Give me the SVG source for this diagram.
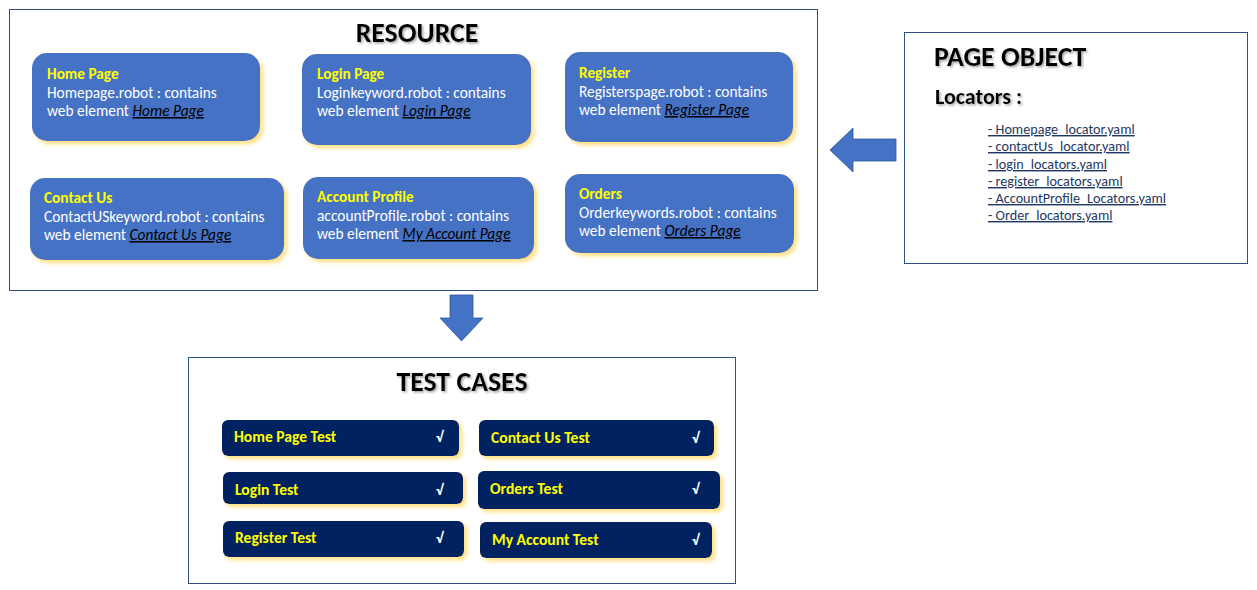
<svg xmlns="http://www.w3.org/2000/svg" width="1257" height="590" viewBox="0 0 1257 590">
<defs>
<filter id="glow" x="-10%" y="-20%" width="130%" height="150%">
<feDropShadow dx="3" dy="3" stdDeviation="2" flood-color="#FFD966" flood-opacity="0.85"/>
</filter>
<filter id="tshadow" x="-5%" y="-20%" width="110%" height="150%">
<feDropShadow dx="1.5" dy="1.5" stdDeviation="1" flood-color="#7F7F7F" flood-opacity="0.7"/>
</filter>
<style>
text{font-family:Carlito,Lato,"Liberation Sans",sans-serif}
.frame{fill:#fff;stroke:#2F4F7F;stroke-width:1}
.card{fill:#4472C4;filter:url(#glow)}
.test{fill:#002060;filter:url(#glow)}
.h1{font-size:27.8px;font-weight:bold;fill:#000;filter:url(#tshadow)}
.h2{font-size:22px;font-weight:bold;fill:#000;filter:url(#tshadow)}
.ct{font-size:15.3px;font-weight:bold;fill:#FFFF00}
.cb{font-size:15.4px;fill:#fff}
.lk{font-style:italic;fill:#000;text-decoration:underline}
.tt{font-size:15.6px;font-weight:bold;fill:#FFFF00}
.ck{font-size:15px;font-weight:bold;fill:#fff}
.loc{font-size:14.2px;fill:#1F3864;text-decoration:underline}
.arrow{fill:#4472C4;stroke:#2F5597;stroke-width:0.8}
</style>
</defs>

<g id="resource">
<rect class="frame" x="9.5" y="9.5" width="808" height="281"/>
<text class="h1" x="417" y="42" text-anchor="middle">RESOURCE</text>
</g>

<g id="home-page">
<rect class="card" x="32" y="53" width="228" height="88" rx="15"/>
<text class="ct" x="47" y="79">Home Page</text>
<text class="cb" x="47" y="98">Homepage.robot : contains</text>
<text class="cb" x="47" y="116">web element <tspan class="lk">Home Page</tspan></text>
</g>

<g id="login-page">
<rect class="card" x="302" y="54" width="229" height="91" rx="15"/>
<text class="ct" x="317" y="79">Login Page</text>
<text class="cb" x="317" y="98">Loginkeyword.robot : contains</text>
<text class="cb" x="317" y="116">web element <tspan class="lk">Login Page</tspan></text>
</g>

<g id="register">
<rect class="card" x="565" y="52" width="228" height="90" rx="15"/>
<text class="ct" x="579" y="78">Register</text>
<text class="cb" x="579" y="97">Registerspage.robot : contains</text>
<text class="cb" x="579" y="115">web element <tspan class="lk">Register Page</tspan></text>
</g>

<g id="contact-us">
<rect class="card" x="30" y="178" width="254" height="82" rx="15"/>
<text class="ct" x="44" y="203">Contact Us</text>
<text class="cb" x="44" y="222">ContactUSkeyword.robot : contains</text>
<text class="cb" x="44" y="240">web element <tspan class="lk">Contact Us Page</tspan></text>
</g>

<g id="account-profile">
<rect class="card" x="303" y="177" width="231" height="82" rx="15"/>
<text class="ct" x="317" y="202">Account Profile</text>
<text class="cb" x="317" y="221">accountProfile.robot : contains</text>
<text class="cb" x="317" y="239">web element <tspan class="lk">My Account Page</tspan></text>
</g>

<g id="orders">
<rect class="card" x="565" y="174" width="229" height="79" rx="15"/>
<text class="ct" x="579" y="199">Orders</text>
<text class="cb" x="579" y="218">Orderkeywords.robot : contains</text>
<text class="cb" x="579" y="236">web element <tspan class="lk">Orders Page</tspan></text>
</g>

<g id="page-object">
<rect class="frame" x="904.5" y="32.5" width="343" height="231"/>
<text class="h1" x="934" y="66">PAGE OBJECT</text>
<text class="h2" x="935" y="104">Locators :</text>
<text class="loc" x="988" y="134">- Homepage_locator.yaml</text>
<text class="loc" x="988" y="151">- contactUs_locator.yaml</text>
<text class="loc" x="988" y="169">- login_locators.yaml</text>
<text class="loc" x="988" y="186">- register_locators.yaml</text>
<text class="loc" x="988" y="203">- AccountProfile_Locators.yaml</text>
<text class="loc" x="988" y="220">- Order_locators.yaml</text>
</g>

<g id="test-cases">
<rect class="frame" x="188.5" y="357.5" width="547" height="226"/>
<text class="h1" x="462" y="391" text-anchor="middle">TEST CASES</text>
</g>

<g id="t-home">
<rect class="test" x="222" y="420" width="237" height="36" rx="6"/>
<text class="tt" x="234" y="442">Home Page Test</text>
<text class="ck" x="436" y="442">√</text>
</g>
<g id="t-contact">
<rect class="test" x="479" y="420" width="235" height="36" rx="6"/>
<text class="tt" x="491" y="443">Contact Us Test</text>
<text class="ck" x="692" y="443">√</text>
</g>
<g id="t-login">
<rect class="test" x="223" y="472" width="240" height="32" rx="6"/>
<text class="tt" x="235" y="495">Login Test</text>
<text class="ck" x="436" y="495">√</text>
</g>
<g id="t-orders">
<rect class="test" x="478" y="471" width="242" height="38" rx="6"/>
<text class="tt" x="490" y="494">Orders Test</text>
<text class="ck" x="692" y="494">√</text>
</g>
<g id="t-register">
<rect class="test" x="223" y="521" width="241" height="36" rx="6"/>
<text class="tt" x="235" y="543">Register Test</text>
<text class="ck" x="436" y="543">√</text>
</g>
<g id="t-account">
<rect class="test" x="480" y="522" width="232" height="36" rx="6"/>
<text class="tt" x="492" y="545">My Account Test</text>
<text class="ck" x="692" y="545">√</text>
</g>

<g id="connectors">
<path class="arrow" d="M896,139 L853,139 L853,128 L830,150 L853,172 L853,161 L896,161 Z"/>
<path class="arrow" d="M450,295 L473,295 L473,318 L483,318 L461.5,341 L440,318 L450,318 Z"/>
</g>
</svg>
